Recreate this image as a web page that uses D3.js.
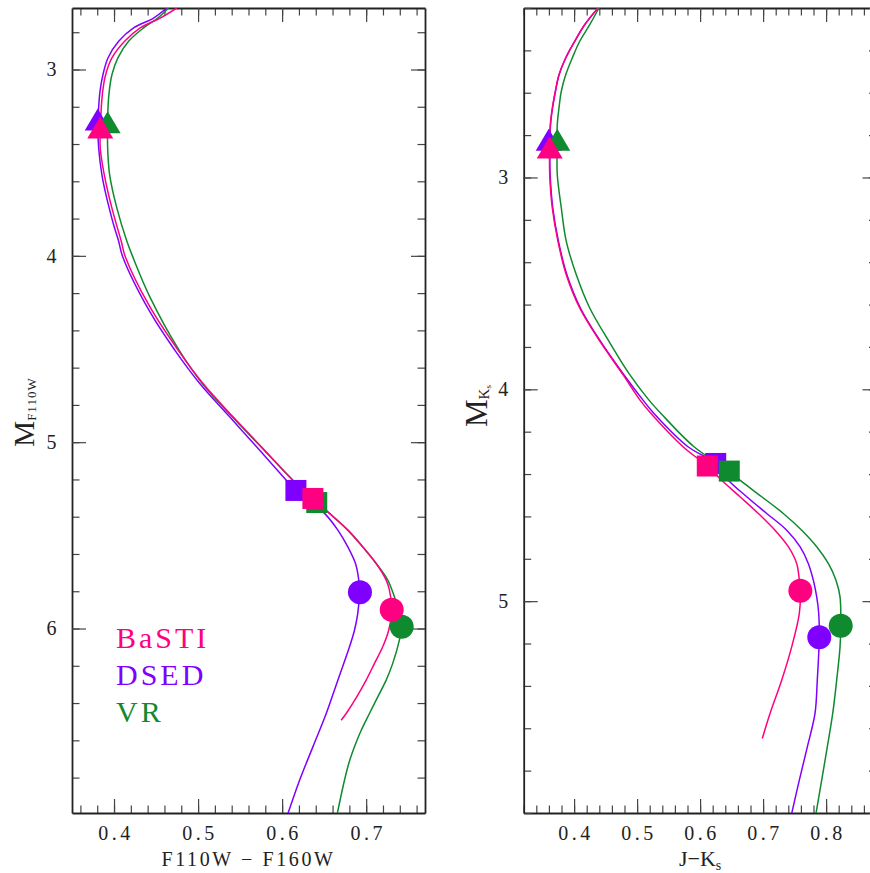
<!DOCTYPE html>
<html>
<head>
<meta charset="utf-8">
<script src="https://cdn.jsdelivr.net/npm/d3@7"></script>
<style>
  body { margin: 0; background: #fff; }
  text { font-family: "Liberation Serif", "DejaVu Serif", serif; fill: #222; }
</style>
</head>
<body>
<svg id="chart" width="870" height="873"></svg>
<script>
// ---- data: [colour, magnitude] along each isochrone ----
// left panel, F110W - F160W vs M_F110W
const hstDsed = [[0.4628,2.67],[0.4470,2.724],[0.4233,2.777],[0.4055,2.849],[0.3928,2.938],[0.3868,3.028],[0.3833,3.117],[0.3817,3.207],[0.3808,3.30],[0.3817,3.421],[0.3856,3.565],[0.3895,3.654],[0.3943,3.744],[0.3995,3.833],[0.4055,3.922],[0.4102,4.003],[0.4426,4.300],[0.4723,4.506],[0.5020,4.685],[0.5376,4.864],[0.5733,5.043],[0.6050,5.204],[0.6164,5.259],[0.6505,5.382],[0.6663,5.472],[0.6782,5.562],[0.6873,5.651],[0.6912,5.740],[0.6920,5.806],[0.6900,5.919],[0.6861,6.009],[0.6802,6.098],[0.6663,6.277],[0.6525,6.456],[0.6366,6.635],[0.6208,6.814],[0.6069,6.993]];
const hstBasti = [[0.4747,2.67],[0.4549,2.724],[0.4311,2.777],[0.4126,2.849],[0.3975,2.938],[0.3900,3.028],[0.3865,3.117],[0.3848,3.207],[0.3838,3.31],[0.3836,3.421],[0.3884,3.565],[0.3975,3.744],[0.4086,3.922],[0.4133,4.003],[0.4426,4.273],[0.4762,4.506],[0.5059,4.685],[0.5416,4.864],[0.5792,5.043],[0.6128,5.204],[0.6366,5.302],[0.6564,5.382],[0.6782,5.472],[0.6960,5.562],[0.7119,5.651],[0.7238,5.740],[0.7277,5.794],[0.7304,5.898],[0.7268,6.009],[0.7197,6.098],[0.7099,6.187],[0.7000,6.277],[0.6888,6.367],[0.6762,6.456],[0.6703,6.492]];
const hstVr = [[0.4648,2.67],[0.4521,2.724],[0.4352,2.777],[0.4173,2.849],[0.4046,2.938],[0.3975,3.028],[0.3943,3.117],[0.3928,3.207],[0.3924,3.30],[0.3924,3.421],[0.3948,3.565],[0.4034,3.744],[0.4153,3.922],[0.4221,4.003],[0.4426,4.220],[0.4774,4.506],[0.5050,4.685],[0.5406,4.864],[0.5786,5.043],[0.6128,5.204],[0.6412,5.324],[0.6564,5.382],[0.6782,5.472],[0.6960,5.562],[0.7119,5.651],[0.7257,5.740],[0.7336,5.830],[0.7396,5.912],[0.7423,5.986],[0.7396,6.061],[0.7316,6.187],[0.7238,6.277],[0.7138,6.367],[0.7039,6.456],[0.6941,6.546],[0.6861,6.635],[0.6793,6.724],[0.6742,6.814],[0.6656,6.993]];

// right panel, J - Ks vs M_Ks
const jkBasti = [[0.4379,2.2],[0.4168,2.279],[0.4010,2.357],[0.3867,2.436],[0.3760,2.515],[0.3702,2.593],[0.3654,2.672],[0.3622,2.751],[0.3610,2.87],[0.3613,2.987],[0.3654,3.144],[0.3744,3.302],[0.3876,3.459],[0.4089,3.616],[0.4411,3.774],[0.4776,3.931],[0.5046,4.051],[0.5221,4.114],[0.5729,4.271],[0.6114,4.362],[0.6343,4.429],[0.6633,4.507],[0.6924,4.586],[0.7189,4.665],[0.7400,4.743],[0.7533,4.822],[0.7575,4.901],[0.7591,4.951],[0.7575,5.058],[0.7454,5.216],[0.7295,5.373],[0.7110,5.530],[0.6987,5.648]];
const jkDsed = [[0.4379,2.2],[0.4168,2.279],[0.4010,2.357],[0.3867,2.436],[0.3762,2.515],[0.3705,2.593],[0.3658,2.672],[0.3626,2.751],[0.3615,2.87],[0.3620,2.987],[0.3662,3.144],[0.3752,3.302],[0.3886,3.459],[0.4100,3.616],[0.4420,3.774],[0.4790,3.931],[0.5094,4.051],[0.5268,4.114],[0.5808,4.271],[0.6248,4.350],[0.6448,4.429],[0.6740,4.507],[0.7057,4.586],[0.7375,4.665],[0.7586,4.743],[0.7717,4.822],[0.7797,4.901],[0.7851,4.980],[0.7883,5.058],[0.7892,5.170],[0.7860,5.373],[0.7824,5.530],[0.7702,5.688],[0.7575,5.845],[0.7454,6.002]];
const jkVr = [[0.4395,2.2],[0.4248,2.279],[0.4089,2.357],[0.3971,2.436],[0.3867,2.515],[0.3797,2.593],[0.3760,2.672],[0.3733,2.751],[0.3730,2.87],[0.3733,2.987],[0.3797,3.144],[0.3876,3.302],[0.4035,3.459],[0.4248,3.616],[0.4554,3.774],[0.4883,3.931],[0.5189,4.051],[0.5379,4.114],[0.5903,4.271],[0.6463,4.386],[0.6633,4.429],[0.6978,4.507],[0.7321,4.586],[0.7613,4.665],[0.7851,4.743],[0.8035,4.822],[0.8157,4.901],[0.8221,4.980],[0.8232,5.116],[0.8221,5.216],[0.8168,5.373],[0.8105,5.530],[0.8019,5.688],[0.7930,5.845],[0.7840,6.002]];

// marker points: [turn-off triangle, square, circle] per model
const hstMarks = {
  dsed:  [[0.3806,3.268],[0.6164,5.259],[0.6926,5.805]],
  vr:    [[0.3924,3.283],[0.6412,5.324],[0.7423,5.991]],
  basti: [[0.3836,3.311],[0.6366,5.302],[0.7304,5.899]]
};
const jkMarks = {
  dsed:  [[0.3597,2.822],[0.6248,4.350],[0.7892,5.170]],
  vr:    [[0.3733,2.822],[0.6463,4.386],[0.8232,5.116]],
  basti: [[0.3613,2.858],[0.6114,4.362],[0.7591,4.951]]
};

const hstXTicks = [0.4, 0.5, 0.6, 0.7];
const jkXTicks = [0.4, 0.5, 0.6, 0.7, 0.8];
const hstYTicks = [3, 4, 5, 6];
const jkYTicks = [3, 4, 5];
const legendNames = ['BaSTI', 'DSED', 'VR'];

const colors = { basti: '#ff0080', dsed: '#8000ff', vr: '#0f8a2e' };
const svg = d3.select('#chart');

function drawPanel(cfg, idx) {
  const x = d3.scaleLinear().domain(cfg.xDomain).range([cfg.left, cfg.right]);
  const y = d3.scaleLinear().domain(cfg.yDomain).range([8, 813]);
  const g = svg.append('g');

  const clipId = 'clip' + idx;
  svg.append('clipPath').attr('id', clipId)
    .append('rect').attr('x', cfg.left).attr('y', 8)
    .attr('width', cfg.right - cfg.left).attr('height', 805);

  const xMinor = d3.range(Math.ceil(cfg.xDomain[0] * 50), Math.floor(cfg.xDomain[1] * 50) + 1).map(d => d / 50);
  const yMinor = d3.range(Math.ceil(cfg.yDomain[0] * 5), Math.floor(cfg.yDomain[1] * 5) + 1).map(d => d / 5);

  // ticks (inward) on all four sides
  const axes = [
    [d3.axisBottom(x), `translate(0,813)`, cfg.xTicks, xMinor, true],
    [d3.axisTop(x), `translate(0,8)`, cfg.xTicks, xMinor, false],
    [d3.axisLeft(y), `translate(${cfg.left},0)`, cfg.yTicks, yMinor, true],
    [d3.axisRight(y), `translate(${cfg.right},0)`, cfg.yTicks, yMinor, false]
  ];
  axes.forEach(([ax, tr, major, minor, labelled]) => {
    g.append('g').attr('transform', tr)
      .call(ax.tickValues(minor).tickSize(-7.5).tickSizeOuter(0).tickFormat(''))
      .call(s => s.select('.domain').remove())
      .selectAll('line').attr('stroke', '#444').attr('stroke-width', 1.2);
    const a = g.append('g').attr('transform', tr)
      .call(ax.tickValues(major).tickSize(-14).tickSizeOuter(0).tickPadding(12)
        .tickFormat(labelled ? d3.format('') : ''));
    a.select('.domain').attr('stroke', '#222').attr('stroke-width', 1.8);
    a.selectAll('line').attr('stroke', '#444').attr('stroke-width', 1.2);
    a.selectAll('text').attr('font-size', 20).attr('font-family', 'Liberation Serif')
      .attr('fill', '#222').attr('letter-spacing', 3.5);
  });
  g.selectAll('.tick text').filter(function () { return this.parentNode.parentNode.getAttribute('transform') === 'translate(0,813)'; })
    .attr('y', 27).attr('dy', 0).attr('dx', 1.5);

  // isochrones
  const line = d3.line().x(d => x(d[0])).y(d => y(d[1])).curve(d3.curveCatmullRom.alpha(0.5));
  const curves = g.append('g').attr('clip-path', `url(#${clipId})`);
  [['dsed', cfg.dsed], ['vr', cfg.vr], ['basti', cfg.basti]].forEach(([k, pts]) => {
    curves.append('path').datum(pts).attr('d', line)
      .attr('fill', 'none').attr('stroke', colors[k]).attr('stroke-width', 1.5);
  });

  // markers
  const marks = g.append('g');
  ['dsed', 'vr', 'basti'].forEach(k => {
    const [tri, sq, ci] = cfg.marks[k];
    const tx = x(tri[0]), ty = y(tri[1]);
    marks.append('path').attr('fill', colors[k])
      .attr('d', `M${tx},${ty - 11}L${tx + 13},${ty + 11}L${tx - 13},${ty + 11}Z`);
    marks.append('rect').attr('fill', colors[k])
      .attr('x', x(sq[0]) - 10.5).attr('y', y(sq[1]) - 10.5).attr('width', 21).attr('height', 21);
    marks.append('circle').attr('fill', colors[k])
      .attr('cx', x(ci[0])).attr('cy', y(ci[1])).attr('r', 12);
  });

  // axis titles
  const cx = (cfg.left + cfg.right) / 2;
  const xt = svg.append('text').attr('x', cx).attr('y', 866).attr('text-anchor', 'middle');
  cfg.xTitle(xt);
  const yt = svg.append('text').attr('text-anchor', 'middle')
    .attr('transform', `translate(${cfg.left - cfg.yTitleGap},${cfg.yTitleY}) rotate(-90)`);
  cfg.yTitle(yt);
}

drawPanel({
  left: 72, right: 425, xDomain: [0.35, 0.77], yDomain: [2.67, 6.99],
  xTicks: hstXTicks, yTicks: hstYTicks,
  dsed: hstDsed, vr: hstVr, basti: hstBasti, marks: hstMarks,
  yTitleGap: 38.5, yTitleY: 412,
  xTitle: t => t.attr('font-size', 20).attr('letter-spacing', 2.6).text('F110W − F160W'),
  yTitle: t => {
    t.append('tspan').attr('font-size', 29).text('M');
    t.append('tspan').attr('font-size', 13).attr('letter-spacing', 1).attr('dy', 2).text('F110W');
  }
}, 0);

drawPanel({
  left: 523.7, right: 876.5, xDomain: [0.32, 0.88], yDomain: [2.2, 6.0],
  xTicks: jkXTicks, yTicks: jkYTicks,
  dsed: jkDsed, vr: jkVr, basti: jkBasti, marks: jkMarks,
  yTitleGap: 37, yTitleY: 406,
  xTitle: t => {
    t.attr('font-size', 22);
    t.append('tspan').text('J−K');
    t.append('tspan').attr('font-size', 14).attr('dy', 4).text('s');
  },
  yTitle: t => {
    t.append('tspan').attr('font-size', 31).text('M');
    t.append('tspan').attr('font-size', 15).attr('dy', 2).text('K');
    t.append('tspan').attr('font-size', 9).attr('dy', 2).text('s');
  }
}, 1);

// legend
const legendColors = [colors.basti, colors.dsed, colors.vr];
svg.append('g').selectAll('text').data(legendNames).join('text')
  .attr('x', 116).attr('y', (d, i) => 648 + i * 36.8)
  .attr('font-size', 30).attr('letter-spacing', 3)
  .attr('fill', (d, i) => legendColors[i]).style('fill', (d, i) => legendColors[i])
  .text(d => d);
</script>
</body>
</html>
